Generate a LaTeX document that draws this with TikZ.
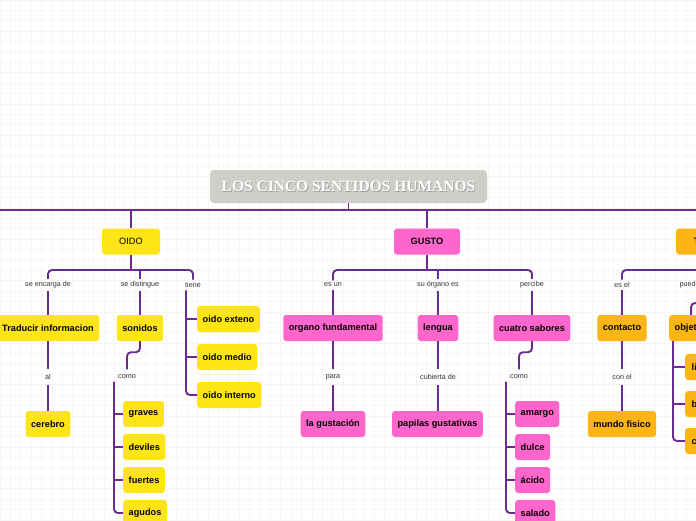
\documentclass[tikz,border=0pt]{standalone}
\usepackage{fontspec}
\setmainfont{Liberation Sans}
\newfontfamily\titlefont{Liberation Serif}
\definecolor{purp}{HTML}{6A2C8F}
\definecolor{yel}{HTML}{FFE416}
\definecolor{pnk}{HTML}{FF66CC}
\definecolor{org}{HTML}{FDB515}
\definecolor{ttl}{HTML}{CFCFCA}
\definecolor{gridc}{HTML}{F6F6F6}
\begin{document}
\begin{tikzpicture}[x=1pt,y=-1pt,
  conn/.style={draw=purp, line width=1.9pt, rounded corners=4pt},
  box/.style={rounded corners=3pt, minimum height=26pt, inner xsep=5.5pt, font=\fontsize{9.2}{11}\selectfont\bfseries, text=black},
  oidob/.style={box, fill=yel},
  gustob/.style={box, fill=pnk},
  tactob/.style={box, fill=org},
  lab/.style={font=\fontsize{7.2}{9}\selectfont, text=black!80, inner sep=2.5pt}
]
\useasboundingbox (0,0) rectangle (696,520);
\clip (0,0) rectangle (696,520);
\fill[white] (0,0) rectangle (696,520);
\foreach \i in {0,...,67} {\draw[gridc, line width=0.7pt] (\i*10.4,0) -- (\i*10.4,520);}
\foreach \i in {0,...,50} {\draw[gridc, line width=0.7pt] (0,\i*10.4) -- (696,\i*10.4);}

% main bus
\coordinate (busL) at (0,210);
\coordinate (busR) at (696,210);
\draw[conn] (busL) -- (busR);

% title
\node[fill=ttl, rounded corners=4pt, minimum width=277pt, minimum height=33pt] (title) at (348.5,186.5) {};
\node[text=black!40, font=\titlefont\bfseries\fontsize{15.5}{17}\selectfont] (titleshadow) at (349.2,187.2) {LOS CINCO SENTIDOS HUMANOS};
\node[text=white, font=\titlefont\bfseries\fontsize{15.5}{17}\selectfont] (titletext) at (348.5,186.5) {LOS CINCO SENTIDOS HUMANOS};
\draw[conn] (title.south) -- (title.south |- busL);

% ===== OIDO =====
\node[oidob, minimum width=58pt, font=\fontsize{9.2}{11}\selectfont] (oido) at (131,241.5) {OIDO};
\draw[conn] (oido.north |- busL) -- (oido.north);
\coordinate (ob) at (131,270);
\node[lab] (l1) at (48,285) {se encarga de};
\node[lab] (l2) at (140,285) {se distingue};
\node[lab] (l3) at (193,285) {tiene};
\draw[conn] (oido.south) -- (ob);
\draw[conn] (l1.north) |- (ob) -| (l3.north);
\draw[conn] (l2.north) -- (l2.north |- ob);

\node[oidob] (trad) at (48,328) {Traducir informacion};
\draw[conn] (trad.north |- l1.south) -- (trad.north);
\node[lab] (al) at (48,377) {al};
\node[oidob] (cerebro) at (48,424) {cerebro};
\draw[conn] (trad.south) -- ([yshift=3pt]al.north);
\draw[conn] ([yshift=-3pt]al.south) -- (cerebro.north);

\node[oidob] (sonidos) at (140,328) {sonidos};
\draw[conn] (l2.south) -- (sonidos.north);
\node[lab] (como1) at (127,377) {como};
\draw[conn] (sonidos.south) -- ++(0,11) -| ([yshift=3pt]como1.north);
\node[oidob, anchor=west] (graves) at (123,414) {graves};
\node[oidob, anchor=west] (deviles) at (123,447) {deviles};
\node[oidob, anchor=west] (fuertes) at (123,480) {fuertes};
\node[oidob, anchor=west] (agudos) at (123,513) {agudos};
\coordinate (gx) at ([xshift=-9pt]graves.west);
\draw[conn] (gx |- como1.south) |- (agudos.west);
\draw[conn] (gx) -- (graves.west);
\draw[conn] (gx |- deviles.west) -- (deviles.west);
\draw[conn] (gx |- fuertes.west) -- (fuertes.west);

\node[oidob, anchor=west] (oe) at (197,319) {oido exteno};
\node[oidob, anchor=west] (om) at (197,357) {oido medio};
\node[oidob, anchor=west] (oi) at (197,395) {oido interno};
\coordinate (tx) at ([xshift=-11pt]oe.west);
\draw[conn] (tx |- l3.south) |- (oi.west);
\draw[conn] (tx) -- (oe.west);
\draw[conn] (tx |- om.west) -- (om.west);

% ===== GUSTO =====
\node[gustob, minimum width=66pt] (gusto) at (427,241.5) {GUSTO};
\draw[conn] (gusto.north |- busL) -- (gusto.north);
\coordinate (gb) at (427,270);
\node[lab] (g1) at (333,285) {es un};
\node[lab] (g2) at (438,285) {su órgano es};
\node[lab] (g3) at (532,285) {percibe};
\draw[conn] (gusto.south) -- (gb);
\draw[conn] (g1.north) |- (gb) -| (g3.north);
\draw[conn] (g2.north) -- (g2.north |- gb);

\node[gustob] (organo) at (333,328) {organo fundamental};
\draw[conn] (organo.north |- g1.south) -- (organo.north);
\node[lab] (para) at (333,377) {para};
\node[gustob] (gust) at (333,424) {la gustación};
\draw[conn] (organo.south) -- ([yshift=3pt]para.north);
\draw[conn] ([yshift=-3pt]para.south) -- (gust.north);

\node[gustob] (lengua) at (438,328) {lengua};
\draw[conn] (g2.south) -- (lengua.north);
\node[lab] (cub) at (438,377) {cubierta de};
\node[gustob] (papilas) at (437.5,424) {papilas gustativas};
\draw[conn] (lengua.south) -- ([yshift=3pt]cub.north);
\draw[conn] ([yshift=-3pt]cub.south) -- (cub.south |- papilas.north);

\node[gustob] (cuatro) at (532,328) {cuatro sabores};
\draw[conn] (g3.south) -- (cuatro.north);
\node[lab] (como2) at (519,377) {como};
\draw[conn] (cuatro.south) -- ++(0,11) -| ([yshift=3pt]como2.north);
\node[gustob, anchor=west] (amargo) at (515,414) {amargo};
\node[gustob, anchor=west] (dulce) at (515,447) {dulce};
\node[gustob, anchor=west] (acido) at (515,480) {ácido};
\node[gustob, anchor=west] (salado) at (515,513) {salado};
\coordinate (ax) at ([xshift=-9pt]amargo.west);
\draw[conn] (ax |- como2.south) |- (salado.west);
\draw[conn] (ax) -- (amargo.west);
\draw[conn] (ax |- dulce.west) -- (dulce.west);
\draw[conn] (ax |- acido.west) -- (acido.west);

% ===== TACTO =====
\node[tactob, minimum width=66pt, anchor=west] (tacto) at (676,241.5) {TACTO};
\draw[conn] (tacto.north |- busL) -- (tacto.north);
\coordinate (tb) at (tacto.south |- gb);
\node[lab] (t1) at (622,285) {es el};
\node[lab, anchor=west] (t2) at (677,285) {puede percibir};
\draw[conn] (tacto.south) -- (tb);
\draw[conn] (t1.north) |- (tb) -| (t2.north);

\node[tactob] (contacto) at (622,328) {contacto};
\draw[conn] (t1.south) -- (contacto.north);
\node[lab] (conel) at (622,377) {con el};
\node[tactob] (mundo) at (622,424) {mundo fisico};
\draw[conn] (contacto.south) -- ([yshift=3pt]conel.north);
\draw[conn] ([yshift=-3pt]conel.south) -- (mundo.north);

\node[tactob, anchor=west] (objetos) at (669,328) {objetos};
\draw[conn] (t2.south) -- ++(0,12) -| (objetos.north);
\node[tactob, anchor=west, inner xsep=6.5pt] (c1) at (685,367) {lisos};
\node[tactob, anchor=west, inner xsep=6.5pt] (c2) at (685,404) {blandos};
\node[tactob, anchor=west, inner xsep=6.5pt] (c3) at (685,441) {calientes};
\coordinate (ox) at ([xshift=4pt]objetos.south west);
\draw[conn] (ox) |- (c3.west);
\draw[conn] (ox |- c1.west) -- (c1.west);
\draw[conn] (ox |- c2.west) -- (c2.west);
\end{tikzpicture}
\end{document}
